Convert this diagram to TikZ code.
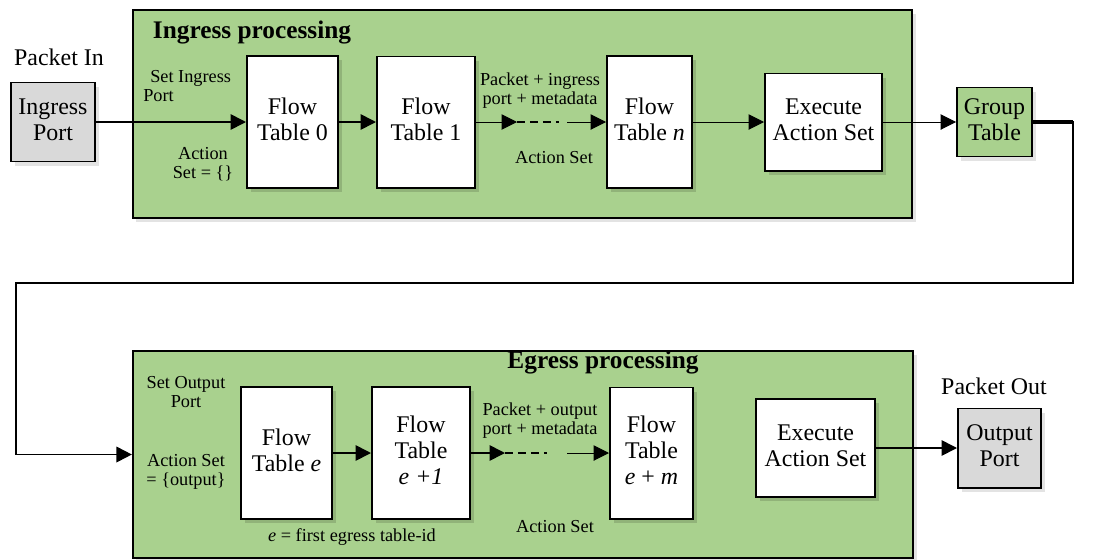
\documentclass[tikz,border=0pt]{standalone}
\usepackage{fontspec}
\setmainfont{Liberation Serif}
\usetikzlibrary{arrows.meta, shadows}

\definecolor{stagegreen}{HTML}{A9D18E}
\definecolor{portgray}{HTML}{D9D9D9}

\newcommand{\bigtxt}{\fontsize{17}{18.5}\selectfont}
\newcommand{\smalltxt}{\fontsize{13}{14}\selectfont}
% stacked lines
\newcommand{\lines}[1]{\begin{tabular}{@{}c@{}}#1\end{tabular}}

\tikzset{
    outshadow/.style={drop shadow={shadow xshift=2.5pt, shadow yshift=-3pt, fill=black!22}},
    inshadow/.style={drop shadow={shadow xshift=2.5pt, shadow yshift=-3pt, fill=stagegreen!72!black}},
    stage/.style={draw, line width=1.4pt, fill=stagegreen, outshadow},
    tbl/.style={draw, line width=1.4pt, fill=white, inner sep=0pt, font=\bigtxt, inshadow},
    port/.style={draw, line width=1.4pt, fill=portgray, inner sep=0pt, font=\bigtxt, outshadow},
    lbl/.style={inner sep=0pt, font=\smalltxt},
    arr/.style={-{Triangle[length=11pt, width=11pt]}, line width=1.2pt},
    thinarr/.style={arr, line width=0.7pt},
    dashpart/.style={line width=1.2pt, dash pattern=on 5.7pt off 3.5pt on 5.7pt off 3.5pt on 5.7pt off 3.5pt on 2pt off 20pt}
}

\begin{document}
\begin{tikzpicture}[x=0.025cm, y=-0.025cm]
            \useasboundingbox (0,0) rectangle (1120,560);

            % processing stages
            \node[stage, minimum width=19.475cm, minimum height=5.2cm] (ingress) at (522.5,114) {};
            \node[stage, minimum width=19.5cm, minimum height=5.175cm] (egress) at (523,454.5) {};
            \node[font=\bfseries\fontsize{18}{20}\selectfont] (ingtitle) at (252,33) {Ingress processing};
            \node[font=\bfseries\fontsize{18}{20}\selectfont] (egtitle) at (603,363) {Egress processing};

            % ingress side
            \node[port, minimum width=2.1cm, minimum height=1.975cm] (inport) at (53,122) {\lines{Ingress\\Port}};
            \node[tbl, minimum width=2.275cm, minimum height=3.3cm] (ft0) at (292.5,122) {\lines{Flow\\Table 0}};
            \node[tbl, minimum width=2.45cm, minimum height=3.275cm] (ft1) at (426,122) {\lines{Flow\\Table 1}};
            \node[tbl, minimum width=2.125cm, minimum height=3.3cm] (ftn) at (649.5,122) {\lines{Flow\\Table \textit{n}}};
            \node[tbl, minimum width=2.925cm, minimum height=2.425cm] (eas1) at (823.5,122) {\lines{Execute\\Action Set}};
            \node[port, fill=stagegreen, minimum width=1.875cm, minimum height=1.725cm] (grp) at (994.5,122) {\lines{Group\\Table}};

            % egress side
            \node[tbl, minimum width=2.275cm, minimum height=3.3cm] (fte) at (286.5,453) {\lines{Flow\\Table \textit{e}}};
            \node[tbl, minimum width=2.45cm, minimum height=3.3cm] (fte1) at (421,453) {\lines{Flow\\Table\\\textit{e +1}}};
            \node[tbl, minimum width=2.075cm, minimum height=3.275cm] (ftm) at (651.5,453) {\lines{Flow\\Table\\\textit{e} + \textit{m}}};
            \node[tbl, minimum width=2.975cm, minimum height=2.45cm] (eas2) at (815.5,448) {\lines{Execute\\Action Set}};
            \node[port, minimum width=2.075cm, minimum height=1.975cm] (outp) at (999.5,448) {\lines{Output\\Port}};

            % arrows, ingress
            \coordinate (dashA) at (517,122);
            \coordinate (dashB) at (567,122);
            \draw[arr] (inport.east) -- (ft0.west);
            \draw[arr] (ft0.east) -- (ft1.west);
            \draw[thinarr] (ft1.east) -- (dashA);
            \draw[dashpart] (dashA) -- (dashB);
            \draw[thinarr] (dashB) -- (ftn.west);
            \draw[thinarr] (ftn.east) -- (eas1.west);
            \draw[thinarr] (eas1.east) -- (grp.west);

            % loop back to egress
            \coordinate (turnA) at (1073,283);
            \coordinate (turnB) at (16,283);
            \draw[line width=3pt] (grp.east) -- (grp.east -| turnA);
            \draw[arr, line width=1.4pt] (grp.east) -| (turnA) -- (turnB) |- (egress.west);

            % arrows, egress
            \coordinate (dashC) at (505,453);
            \coordinate (dashD) at (567,453);
            \draw[arr] (fte.east) -- (fte1.west);
            \draw[arr] (fte1.east) -- (dashC);
            \draw[dashpart] (dashC) -- (dashD);
            \draw[thinarr] (dashD) -- (ftm.west);
            \draw[arr] (eas2.east) -- (outp.west);

            % notations
            \node[font=\bigtxt] (pktin) at (59,57) {Packet In};
            \node[font=\bigtxt] (pktout) at (994,386) {Packet Out};
            \node[lbl, anchor=west] (setin) at (143,88) {\begin{tabular}{@{}l@{}}\hspace*{5pt}Set Ingress\\Port\end{tabular}};
            \node[lbl] (actin) at (203,165) {\lines{Action\\Set = \{\}}};
            \node[lbl] (pkting) at (540,91) {\lines{Packet + ingress\\port + metadata}};
            \node[lbl] (actmid) at (554,158) {Action Set};
            \node[lbl] (setout) at (186,394) {\lines{Set Output\\Port}};
            \node[lbl] (actout) at (186,472) {\lines{Action Set\\= \{output\}}};
            \node[lbl] (pktegr) at (540,421) {\lines{Packet + output\\port + metadata}};
            \node[lbl] (actmid2) at (555,527) {Action Set};
            \node[lbl] (eid) at (352,537) {\textit{e} = first egress table-id};

        \end{tikzpicture}
\end{document}
